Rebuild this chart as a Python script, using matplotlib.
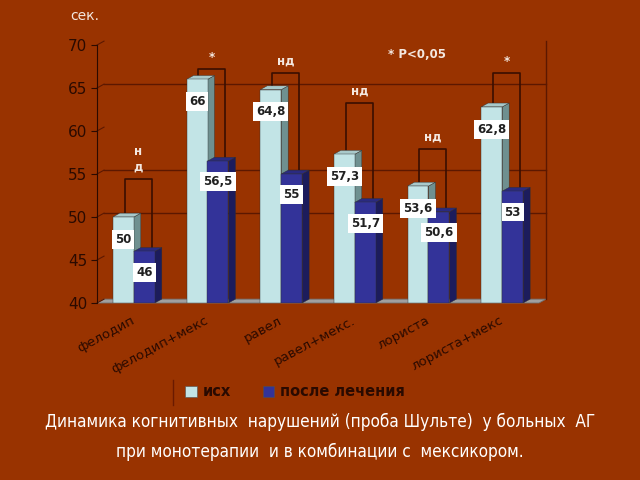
import matplotlib
matplotlib.use("Agg")
import matplotlib.pyplot as plt
from matplotlib.patches import Polygon
import numpy as np

categories = ["фелодип", "фелодип+мекс", "равел", "равел+мекс.", "лориста", "лориста+мекс"]
before = [50, 66, 64.8, 57.3, 53.6, 62.8]
after = [46, 56.5, 55, 51.7, 50.6, 53]
before_labels = ["50", "66", "64,8", "57,3", "53,6", "62,8"]
after_labels = ["46", "56,5", "55", "51,7", "50,6", "53"]
signif = ["н\nд", "*", "нд", "нд", "нд", "*"]
bracket_top = [54.4, 67.2, 66.7, 63.2, 57.9, 66.7]
yticks = [40, 45, 50, 55, 60, 65, 70]
grid_vals = [50, 55, 65]
series_names = ["исх", "после лечения"]

BG = "#993300"
LIGHT = "#c2e4e6"
LIGHT_SIDE = "#6f9090"
LIGHT_TOP = "#a9c9ca"
DARK = "#333399"
DARK_SIDE = "#1c1c5c"
DARK_TOP = "#2a2a80"
GRID = "#5c1800"
BRK = "#3a0e00"
TXT = "#2a0a00"

fig = plt.figure(figsize=(6.4, 4.8), dpi=100, facecolor=BG)
ax = fig.add_axes([97/640, 1-303/480, 442/640, 258/480])
ax.set_facecolor(BG)
ax.set_xlim(-0.5, 5.5)
ax.set_ylim(40, 70)

DX = 0.095
DY = 0.45
W = 0.285
x = np.arange(len(categories))

floor = Polygon([(-0.5, 40), (5.5, 40), (5.5 + DX, 40 + DY), (-0.5 + DX, 40 + DY)],
                closed=True, facecolor="#a0a0a0", edgecolor="#707070", lw=0.6,
                zorder=1, clip_on=False)
ax.add_patch(floor)

for g in grid_vals:
    ax.plot([-0.5 + DX, 5.5 + DX], [g + DY, g + DY], color=GRID, lw=1.0, zorder=1, clip_on=False)
for t in yticks:
    ax.plot([-0.5, -0.5 + DX], [t, t + DY], color=GRID, lw=0.8, zorder=1, clip_on=False)
ax.plot([5.5 + DX, 5.5 + DX], [40 + DY, 70 + DY], color=GRID, lw=1.0, zorder=1, clip_on=False)


def bar3d(xc, h, front, side, top):
    x0, x1 = xc - W / 2, xc + W / 2
    ax.add_patch(Polygon([(x1, 40), (x1 + DX, 40 + DY), (x1 + DX, h + DY), (x1, h)],
                         closed=True, facecolor=side, edgecolor="#303030", lw=0.3, zorder=3))
    ax.add_patch(Polygon([(x0, h), (x1, h), (x1 + DX, h + DY), (x0 + DX, h + DY)],
                         closed=True, facecolor=top, edgecolor="#303030", lw=0.3, zorder=3))
    ax.bar(xc, h - 40, bottom=40, width=W, color=front, edgecolor="#303030", lw=0.3, zorder=3)


for i in range(len(categories)):
    xl = x[i] - W / 2
    xd = x[i] + W / 2
    lx = xl + 0.02
    rx = xd + 0.1
    ax.plot([lx, lx, rx, rx], [before[i] + DY, bracket_top[i], bracket_top[i], after[i] + DY],
            color=BRK, lw=1.2, zorder=2)
    bar3d(xl, before[i], LIGHT, LIGHT_SIDE, LIGHT_TOP)
    bar3d(xd, after[i], DARK, DARK_SIDE, DARK_TOP)
    ax.annotate(before_labels[i], (xl, before[i]), xytext=(0, -16), textcoords="offset points",
                ha="center", va="center", fontsize=8.5, fontweight="bold", color="#202020",
                bbox=dict(boxstyle="square,pad=0.25", fc="white", ec="none"), zorder=5)
    ax.annotate(after_labels[i], (xd, after[i]), xytext=(0, -15), textcoords="offset points",
                ha="center", va="center", fontsize=8.5, fontweight="bold", color="#202020",
                bbox=dict(boxstyle="square,pad=0.25", fc="white", ec="none"), zorder=5)
    ax.annotate(signif[i], ((lx + rx) / 2, bracket_top[i]), xytext=(0, 4), textcoords="offset points",
                ha="center", va="bottom", fontsize=8.5, fontweight="bold", color="#f4e8e0",
                linespacing=1.3, zorder=5)

fig.text(388/640, 1 - 55/480, "* P<0,05", fontsize=8.5, fontweight="bold",
         color="#f4e8e0", ha="left", va="center")
fig.text(70/640, 1 - 16/480, "сек.", fontsize=10, color="#f4e8e0", ha="left", va="center")

for s in ["top", "right", "bottom"]:
    ax.spines[s].set_visible(False)
ax.spines["left"].set_color(TXT)
ax.spines["left"].set_linewidth(0.8)
ax.set_yticks(yticks)
ax.set_yticklabels([str(t) for t in yticks], fontsize=11, color=TXT)
ax.tick_params(axis="y", length=4, color=TXT, pad=3)
ax.set_xticks(x)
ax.set_xticklabels(categories, rotation=28, ha="right", va="center", rotation_mode="anchor",
                   fontsize=9.5, color=TXT)
ax.tick_params(axis="x", length=0, pad=12)

handles = [Polygon([(0, 0)], facecolor=LIGHT, edgecolor="#505050", lw=0.4),
           Polygon([(0, 0)], facecolor=DARK, edgecolor="#505050", lw=0.4)]
leg = fig.legend(handles, series_names, loc="center", bbox_to_anchor=(295/640, 1 - 392/480),
                 ncol=2, frameon=False, handlelength=0.8, handleheight=0.8, handletextpad=0.4,
                 columnspacing=2.2, prop=dict(size=10.5, weight="bold"))
for t in leg.get_texts():
    t.set_color(TXT)
fig.add_artist(plt.Line2D([173/640, 173/640], [1 - 380/480, 1 - 405/480], color="#6a1a00", lw=1.0))

fig.text(0.5, 1 - 422/480, "Динамика когнитивных  нарушений (проба Шульте)  у больных  АГ",
         ha="center", va="center", fontsize=12.3, color="white", family="DejaVu Sans",
         fontstretch="condensed")
fig.text(0.5, 1 - 452/480, "при монотерапии  и в комбинации с  мексикором.",
         ha="center", va="center", fontsize=12.3, color="white", family="DejaVu Sans",
         fontstretch="condensed")

fig.savefig("out.png", dpi=100, facecolor=BG)
